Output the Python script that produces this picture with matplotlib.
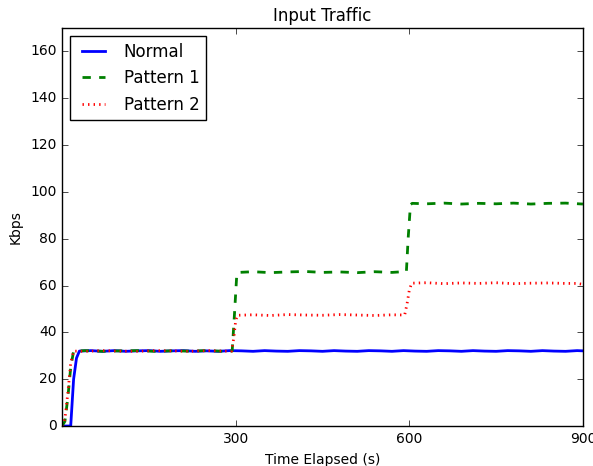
import numpy as np
import matplotlib
matplotlib.use('Agg')
import matplotlib.pyplot as plt

# datos (tiempo en s, trafico en Kbps)
t_normal = [0, 15, 20, 25, 30, 50, 70, 90, 110, 130, 150, 170, 190, 210, 230, 250,
            270, 290, 310, 330, 350, 370, 390, 410, 430, 450, 470, 490, 510, 530,
            550, 570, 590, 610, 630, 650, 670, 690, 710, 730, 750, 770, 790, 810,
            830, 850, 870, 890, 900]
normal = [0, 0, 20, 29, 32, 32.2, 31.9, 32.2, 31.9, 32.1, 32.2, 31.9, 32.1, 32.2, 31.9,
          32.1, 31.9, 32.2, 32.1, 31.9, 32.2, 32.0, 31.9, 32.2, 32.1, 31.9, 32.2, 32.0,
          31.9, 32.2, 32.1, 31.9, 32.2, 32.0, 31.9, 32.2, 32.1, 31.9, 32.2, 32.0, 31.9,
          32.2, 32.1, 31.9, 32.2, 32.0, 31.9, 32.2, 32.1]

t_p1 = [0, 5, 10, 15, 20, 40, 70, 100, 130, 160, 190, 220, 250, 280, 294, 298, 302,
        305, 330, 360, 390, 420, 450, 480, 510, 540, 570, 595, 598, 602, 605, 630,
        660, 690, 720, 750, 780, 810, 840, 870, 900]
pattern1 = [0, 2, 12, 25, 32, 32.2, 31.9, 32.1, 32.2, 31.9, 32.1, 32.0, 32.2, 31.9, 32,
            48, 65, 65.6, 65.9, 65.5, 65.8, 66.0, 65.6, 65.8, 65.5, 65.9, 65.6, 66, 80,
            94.5, 95.1, 94.9, 95.2, 94.8, 95.1, 94.9, 95.2, 94.8, 95.1, 95.2, 94.8]

t_p2 = [0, 5, 10, 15, 20, 40, 70, 100, 130, 160, 190, 220, 250, 280, 293, 297, 300,
        303, 330, 360, 390, 420, 450, 480, 510, 540, 570, 592, 596, 600, 604, 630,
        660, 690, 720, 750, 780, 810, 840, 870, 890, 900]
pattern2 = [0, 3, 14, 27, 32, 31.9, 32.2, 32.0, 31.9, 32.2, 32.1, 31.9, 32.2, 32.0, 32,
            38, 45, 47.3, 47.5, 47.2, 47.6, 47.4, 47.3, 47.6, 47.4, 47.2, 47.5, 47.4, 52,
            58, 61, 61.2, 60.8, 61.1, 60.9, 61.2, 60.8, 61.0, 61.1, 60.9, 60.9, 60.5]

plt.style.use('classic')
plt.rcParams['font.size'] = 10

fig = plt.figure(figsize=(5.93, 4.66), dpi=100)
fig.patch.set_facecolor('white')
fig.subplots_adjust(left=0.1046, right=0.983, bottom=0.0858, top=0.94)
ax = fig.add_subplot(111)

ax.plot(t_normal, normal, 'b-', linewidth=2, label='Normal')
ax.plot(t_p1, pattern1, 'g--', linewidth=2, label='Pattern 1')
ax.plot(t_p2, pattern2, 'r:', linewidth=2, label='Pattern 2')

ax.set_xlim(0, 900)
ax.set_ylim(0, 170)
ax.set_xticks([300, 600, 900])
ax.set_yticks(np.arange(0, 170, 20))
ax.set_xlabel('Time Elapsed (s)', fontsize=10)
ax.set_ylabel('Kbps', fontsize=10)
ax.set_title('Input Traffic', fontsize=12)
ax.tick_params(labelsize=10)
ax.legend(loc='upper left', fontsize=12)

fig.savefig('out.png', dpi=100, facecolor='white')
